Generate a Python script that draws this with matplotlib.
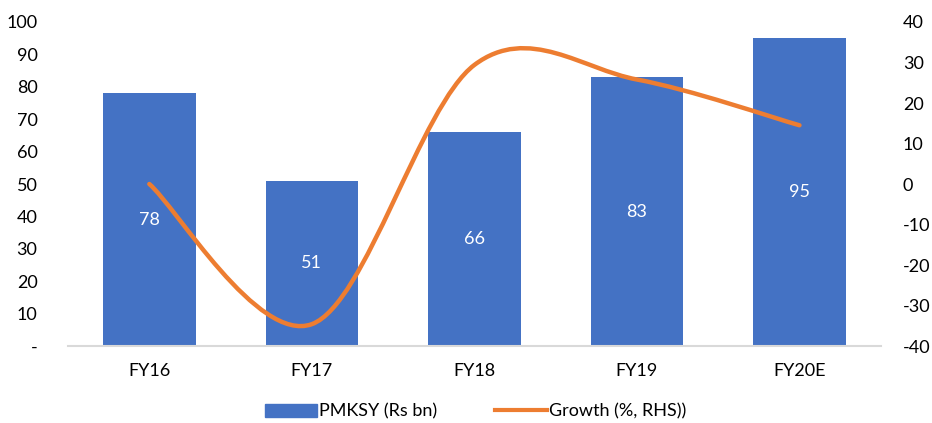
import matplotlib.pyplot as plt
from matplotlib.path import Path
from matplotlib.patches import PathPatch
from matplotlib.lines import Line2D
from matplotlib.patches import Patch

plt.rcParams['font.family'] = ['Lato', 'DejaVu Sans']
plt.rcParams['axes.unicode_minus'] = False

years = ['FY16', 'FY17', 'FY18', 'FY19', 'FY20E']
pmksy = [78, 51, 66, 83, 95]          # Rs bn
growth = [0.0, -34.6, 29.4, 25.8, 14.5]  # % yoy

blue = '#4472C4'
orange = '#ED7D31'
fs = 13

fig = plt.figure(figsize=(9.32, 4.23), dpi=100)
ax = fig.add_axes([0.073, 0.182, 0.872, 0.766])
ax2 = ax.twinx()

x = list(range(len(years)))
ax.bar(x, pmksy, width=0.57, color=blue, zorder=2)
for xi, v in zip(x, pmksy):
    ax.text(xi, v / 2, str(v), ha='center', va='center', color='white', fontsize=fs)

ax.set_xlim(-0.5, len(years) - 0.5)
ax.set_ylim(0, 100)
ax.set_yticks(range(0, 101, 10))
ax.set_yticklabels(['-'] + [str(v) for v in range(10, 101, 10)])
ax.set_xticks(x)
ax.set_xticklabels(years)

# smoothed growth line: cubic bezier segments through the points
pts = list(zip(x, growth))
verts = [pts[0]]
codes = [Path.MOVETO]
n = len(pts)
for i in range(n - 1):
    p0 = pts[i - 1] if i > 0 else pts[i]
    p1 = pts[i]
    p2 = pts[i + 1]
    p3 = pts[i + 2] if i + 2 < n else pts[i + 1]
    c1 = (p1[0] + (p2[0] - p0[0]) / 6, p1[1] + (p2[1] - p0[1]) / 6)
    c2 = (p2[0] - (p3[0] - p1[0]) / 6, p2[1] - (p3[1] - p1[1]) / 6)
    verts += [c1, c2, p2]
    codes += [Path.CURVE4] * 3
ax2.add_patch(PathPatch(Path(verts, codes), facecolor='none', edgecolor=orange,
                        lw=3.2, capstyle='round', zorder=3))
ax2.set_ylim(-40, 40)
ax2.set_yticks(range(-40, 41, 10))

for a in (ax, ax2):
    for s in a.spines.values():
        s.set_visible(False)
    a.tick_params(length=0, labelsize=fs, colors='black')
ax.spines['bottom'].set_visible(True)
ax.spines['bottom'].set_color('#D9D9D9')
ax.spines['bottom'].set_linewidth(1.5)
ax.tick_params(axis='y', pad=22)
ax.tick_params(axis='x', pad=12)
ax2.tick_params(axis='y', pad=16)

handles = [Patch(color=blue), Line2D([], [], color=orange, lw=3)]
fig.legend(handles, ['PMKSY (Rs bn)', 'Growth (%, RHS))'], loc='lower center',
           bbox_to_anchor=(0.51, -0.03), ncol=2, frameon=False, fontsize=fs,
           handlelength=2.9, handleheight=0.75, handletextpad=0.1, columnspacing=3.2)

fig.savefig('out.png', dpi=100)
